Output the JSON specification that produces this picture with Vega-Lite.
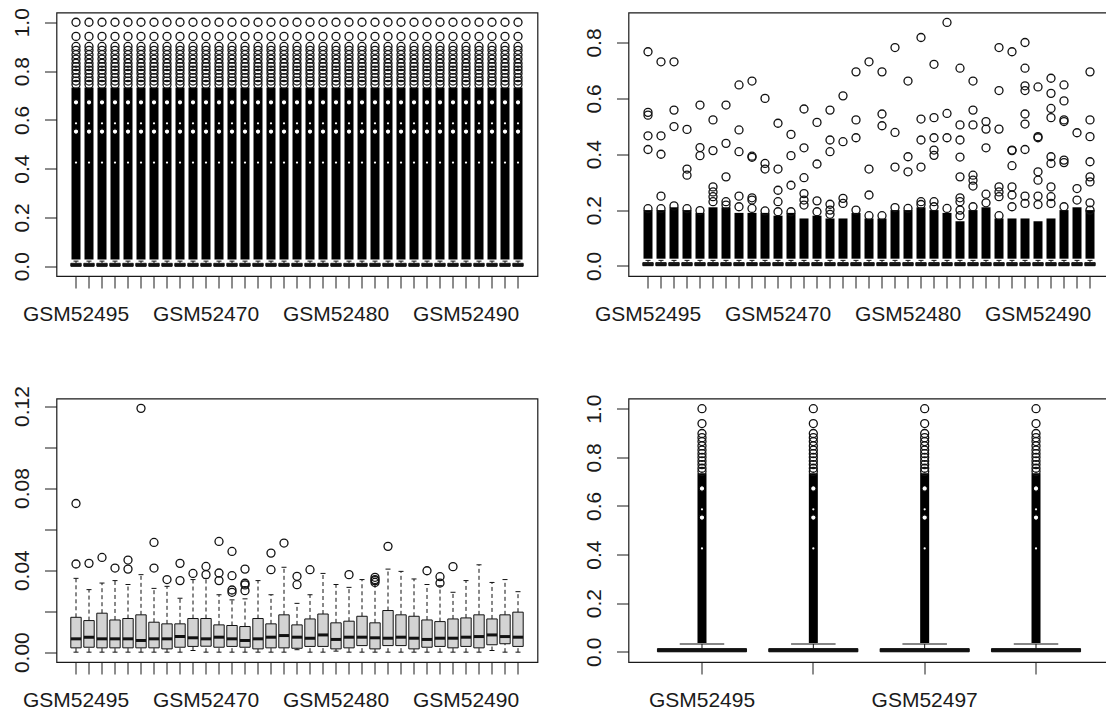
{
"$schema": "https://vega.github.io/schema/vega-lite/v6.json",
"padding": {"left": 10.5, "top": 6.5, "right": -5, "bottom": 0},
"config": {"view": {"stroke": "#1a1a1a", "strokeWidth": 1.2}, "font": "Liberation Sans",
 "axis": {"grid": false, "domain": false, "tickColor": "#1a1a1a", "tickSize": 12, "tickWidth": 1, "labelColor": "#1a1a1a", "labelFont": "Liberation Sans", "labelOverlap": false, "title": null},
 "axisY": {"labelAngle": 270, "labelAlign": "center", "labelBaseline": "alphabetic", "labelPadding": 16, "labelFontSize": 21},
 "axisX": {"labelAngle": 0, "labelAlign": "center", "labelBaseline": "alphabetic", "labelPadding": 32, "labelFontSize": 21}},
"columns": 2,
"bounds": "flush",
"spacing": {"row": 122, "column": 91},
"datasets": {
"p1": [
{"s":"GSM52495","q1":0,"med":0.005,"q3":0.012,"lo":0,"hi":0.021,"dlo":0.028,"dhi":0.733,"h":[0.552,0.672],"d":[0.425,0.586],"o":[0.745,0.759,0.773,0.79,0.804,0.818,0.832,0.849,0.867,0.885,0.901,0.942,1]},
{"s":"GSM52461","q1":0,"med":0.005,"q3":0.012,"lo":0,"hi":0.021,"dlo":0.028,"dhi":0.733,"h":[0.552,0.672],"d":[0.425,0.586],"o":[0.745,0.759,0.773,0.79,0.804,0.818,0.832,0.849,0.867,0.885,0.901,0.942,1]},
{"s":"GSM52462","q1":0,"med":0.005,"q3":0.012,"lo":0,"hi":0.021,"dlo":0.028,"dhi":0.733,"h":[0.552,0.672],"d":[0.425,0.586],"o":[0.745,0.759,0.773,0.79,0.804,0.818,0.832,0.849,0.867,0.885,0.901,0.942,1]},
{"s":"GSM52463","q1":0,"med":0.005,"q3":0.012,"lo":0,"hi":0.021,"dlo":0.028,"dhi":0.733,"h":[0.552,0.672],"d":[0.425,0.586],"o":[0.745,0.759,0.773,0.79,0.804,0.818,0.832,0.849,0.867,0.885,0.901,0.942,1]},
{"s":"GSM52464","q1":0,"med":0.005,"q3":0.012,"lo":0,"hi":0.021,"dlo":0.028,"dhi":0.733,"h":[0.552,0.672],"d":[0.425,0.586],"o":[0.745,0.759,0.773,0.79,0.804,0.818,0.832,0.849,0.867,0.885,0.901,0.942,1]},
{"s":"GSM52465","q1":0,"med":0.005,"q3":0.012,"lo":0,"hi":0.021,"dlo":0.028,"dhi":0.733,"h":[0.552,0.672],"d":[0.425,0.586],"o":[0.745,0.759,0.773,0.79,0.804,0.818,0.832,0.849,0.867,0.885,0.901,0.942,1]},
{"s":"GSM52466","q1":0,"med":0.005,"q3":0.012,"lo":0,"hi":0.021,"dlo":0.028,"dhi":0.733,"h":[0.552,0.672],"d":[0.425,0.586],"o":[0.745,0.759,0.773,0.79,0.804,0.818,0.832,0.849,0.867,0.885,0.901,0.942,1]},
{"s":"GSM52467","q1":0,"med":0.005,"q3":0.012,"lo":0,"hi":0.021,"dlo":0.028,"dhi":0.733,"h":[0.552,0.672],"d":[0.425,0.586],"o":[0.745,0.759,0.773,0.79,0.804,0.818,0.832,0.849,0.867,0.885,0.901,0.942,1]},
{"s":"GSM52468","q1":0,"med":0.005,"q3":0.012,"lo":0,"hi":0.021,"dlo":0.028,"dhi":0.733,"h":[0.552,0.672],"d":[0.425,0.586],"o":[0.745,0.759,0.773,0.79,0.804,0.818,0.832,0.849,0.867,0.885,0.901,0.942,1]},
{"s":"GSM52469","q1":0,"med":0.005,"q3":0.012,"lo":0,"hi":0.021,"dlo":0.028,"dhi":0.733,"h":[0.552,0.672],"d":[0.425,0.586],"o":[0.745,0.759,0.773,0.79,0.804,0.818,0.832,0.849,0.867,0.885,0.901,0.942,1]},
{"s":"GSM52470","q1":0,"med":0.005,"q3":0.012,"lo":0,"hi":0.021,"dlo":0.028,"dhi":0.733,"h":[0.552,0.672],"d":[0.425,0.586],"o":[0.745,0.759,0.773,0.79,0.804,0.818,0.832,0.849,0.867,0.885,0.901,0.942,1]},
{"s":"GSM52471","q1":0,"med":0.005,"q3":0.012,"lo":0,"hi":0.021,"dlo":0.028,"dhi":0.733,"h":[0.552,0.672],"d":[0.425,0.586],"o":[0.745,0.759,0.773,0.79,0.804,0.818,0.832,0.849,0.867,0.885,0.901,0.942,1]},
{"s":"GSM52472","q1":0,"med":0.005,"q3":0.012,"lo":0,"hi":0.021,"dlo":0.028,"dhi":0.733,"h":[0.552,0.672],"d":[0.425,0.586],"o":[0.745,0.759,0.773,0.79,0.804,0.818,0.832,0.849,0.867,0.885,0.901,0.942,1]},
{"s":"GSM52473","q1":0,"med":0.005,"q3":0.012,"lo":0,"hi":0.021,"dlo":0.028,"dhi":0.733,"h":[0.552,0.672],"d":[0.425,0.586],"o":[0.745,0.759,0.773,0.79,0.804,0.818,0.832,0.849,0.867,0.885,0.901,0.942,1]},
{"s":"GSM52474","q1":0,"med":0.005,"q3":0.012,"lo":0,"hi":0.021,"dlo":0.028,"dhi":0.733,"h":[0.552,0.672],"d":[0.425,0.586],"o":[0.745,0.759,0.773,0.79,0.804,0.818,0.832,0.849,0.867,0.885,0.901,0.942,1]},
{"s":"GSM52475","q1":0,"med":0.005,"q3":0.012,"lo":0,"hi":0.021,"dlo":0.028,"dhi":0.733,"h":[0.552,0.672],"d":[0.425,0.586],"o":[0.745,0.759,0.773,0.79,0.804,0.818,0.832,0.849,0.867,0.885,0.901,0.942,1]},
{"s":"GSM52476","q1":0,"med":0.005,"q3":0.012,"lo":0,"hi":0.021,"dlo":0.028,"dhi":0.733,"h":[0.552,0.672],"d":[0.425,0.586],"o":[0.745,0.759,0.773,0.79,0.804,0.818,0.832,0.849,0.867,0.885,0.901,0.942,1]},
{"s":"GSM52477","q1":0,"med":0.005,"q3":0.012,"lo":0,"hi":0.021,"dlo":0.028,"dhi":0.733,"h":[0.552,0.672],"d":[0.425,0.586],"o":[0.745,0.759,0.773,0.79,0.804,0.818,0.832,0.849,0.867,0.885,0.901,0.942,1]},
{"s":"GSM52478","q1":0,"med":0.005,"q3":0.012,"lo":0,"hi":0.021,"dlo":0.028,"dhi":0.733,"h":[0.552,0.672],"d":[0.425,0.586],"o":[0.745,0.759,0.773,0.79,0.804,0.818,0.832,0.849,0.867,0.885,0.901,0.942,1]},
{"s":"GSM52479","q1":0,"med":0.005,"q3":0.012,"lo":0,"hi":0.021,"dlo":0.028,"dhi":0.733,"h":[0.552,0.672],"d":[0.425,0.586],"o":[0.745,0.759,0.773,0.79,0.804,0.818,0.832,0.849,0.867,0.885,0.901,0.942,1]},
{"s":"GSM52480","q1":0,"med":0.005,"q3":0.012,"lo":0,"hi":0.021,"dlo":0.028,"dhi":0.733,"h":[0.552,0.672],"d":[0.425,0.586],"o":[0.745,0.759,0.773,0.79,0.804,0.818,0.832,0.849,0.867,0.885,0.901,0.942,1]},
{"s":"GSM52481","q1":0,"med":0.005,"q3":0.012,"lo":0,"hi":0.021,"dlo":0.028,"dhi":0.733,"h":[0.552,0.672],"d":[0.425,0.586],"o":[0.745,0.759,0.773,0.79,0.804,0.818,0.832,0.849,0.867,0.885,0.901,0.942,1]},
{"s":"GSM52482","q1":0,"med":0.005,"q3":0.012,"lo":0,"hi":0.021,"dlo":0.028,"dhi":0.733,"h":[0.552,0.672],"d":[0.425,0.586],"o":[0.745,0.759,0.773,0.79,0.804,0.818,0.832,0.849,0.867,0.885,0.901,0.942,1]},
{"s":"GSM52483","q1":0,"med":0.005,"q3":0.012,"lo":0,"hi":0.021,"dlo":0.028,"dhi":0.733,"h":[0.552,0.672],"d":[0.425,0.586],"o":[0.745,0.759,0.773,0.79,0.804,0.818,0.832,0.849,0.867,0.885,0.901,0.942,1]},
{"s":"GSM52484","q1":0,"med":0.005,"q3":0.012,"lo":0,"hi":0.021,"dlo":0.028,"dhi":0.733,"h":[0.552,0.672],"d":[0.425,0.586],"o":[0.745,0.759,0.773,0.79,0.804,0.818,0.832,0.849,0.867,0.885,0.901,0.942,1]},
{"s":"GSM52485","q1":0,"med":0.005,"q3":0.012,"lo":0,"hi":0.021,"dlo":0.028,"dhi":0.733,"h":[0.552,0.672],"d":[0.425,0.586],"o":[0.745,0.759,0.773,0.79,0.804,0.818,0.832,0.849,0.867,0.885,0.901,0.942,1]},
{"s":"GSM52486","q1":0,"med":0.005,"q3":0.012,"lo":0,"hi":0.021,"dlo":0.028,"dhi":0.733,"h":[0.552,0.672],"d":[0.425,0.586],"o":[0.745,0.759,0.773,0.79,0.804,0.818,0.832,0.849,0.867,0.885,0.901,0.942,1]},
{"s":"GSM52487","q1":0,"med":0.005,"q3":0.012,"lo":0,"hi":0.021,"dlo":0.028,"dhi":0.733,"h":[0.552,0.672],"d":[0.425,0.586],"o":[0.745,0.759,0.773,0.79,0.804,0.818,0.832,0.849,0.867,0.885,0.901,0.942,1]},
{"s":"GSM52488","q1":0,"med":0.005,"q3":0.012,"lo":0,"hi":0.021,"dlo":0.028,"dhi":0.733,"h":[0.552,0.672],"d":[0.425,0.586],"o":[0.745,0.759,0.773,0.79,0.804,0.818,0.832,0.849,0.867,0.885,0.901,0.942,1]},
{"s":"GSM52489","q1":0,"med":0.005,"q3":0.012,"lo":0,"hi":0.021,"dlo":0.028,"dhi":0.733,"h":[0.552,0.672],"d":[0.425,0.586],"o":[0.745,0.759,0.773,0.79,0.804,0.818,0.832,0.849,0.867,0.885,0.901,0.942,1]},
{"s":"GSM52490","q1":0,"med":0.005,"q3":0.012,"lo":0,"hi":0.021,"dlo":0.028,"dhi":0.733,"h":[0.552,0.672],"d":[0.425,0.586],"o":[0.745,0.759,0.773,0.79,0.804,0.818,0.832,0.849,0.867,0.885,0.901,0.942,1]},
{"s":"GSM52491","q1":0,"med":0.005,"q3":0.012,"lo":0,"hi":0.021,"dlo":0.028,"dhi":0.733,"h":[0.552,0.672],"d":[0.425,0.586],"o":[0.745,0.759,0.773,0.79,0.804,0.818,0.832,0.849,0.867,0.885,0.901,0.942,1]},
{"s":"GSM52492","q1":0,"med":0.005,"q3":0.012,"lo":0,"hi":0.021,"dlo":0.028,"dhi":0.733,"h":[0.552,0.672],"d":[0.425,0.586],"o":[0.745,0.759,0.773,0.79,0.804,0.818,0.832,0.849,0.867,0.885,0.901,0.942,1]},
{"s":"GSM52493","q1":0,"med":0.005,"q3":0.012,"lo":0,"hi":0.021,"dlo":0.028,"dhi":0.733,"h":[0.552,0.672],"d":[0.425,0.586],"o":[0.745,0.759,0.773,0.79,0.804,0.818,0.832,0.849,0.867,0.885,0.901,0.942,1]},
{"s":"GSM52494","q1":0,"med":0.005,"q3":0.012,"lo":0,"hi":0.021,"dlo":0.028,"dhi":0.733,"h":[0.552,0.672],"d":[0.425,0.586],"o":[0.745,0.759,0.773,0.79,0.804,0.818,0.832,0.849,0.867,0.885,0.901,0.942,1]}
],
"p2": [
{"s":"GSM52495","q1":0.001,"med":0.005,"q3":0.012,"lo":0,"hi":0.02,"dlo":0.026,"dhi":0.2,"o":[0.767,0.55,0.54,0.466,0.417,0.205]},
{"s":"GSM52461","q1":0.001,"med":0.005,"q3":0.012,"lo":0,"hi":0.02,"dlo":0.026,"dhi":0.2,"o":[0.731,0.466,0.4,0.25,0.205]},
{"s":"GSM52462","q1":0.001,"med":0.005,"q3":0.012,"lo":0,"hi":0.02,"dlo":0.026,"dhi":0.21,"o":[0.731,0.558,0.499,0.215]},
{"s":"GSM52463","q1":0.001,"med":0.005,"q3":0.012,"lo":0,"hi":0.02,"dlo":0.026,"dhi":0.2,"o":[0.489,0.347,0.325,0.205]},
{"s":"GSM52464","q1":0.001,"med":0.005,"q3":0.012,"lo":0,"hi":0.02,"dlo":0.026,"dhi":0.19,"o":[0.576,0.424,0.395,0.198]},
{"s":"GSM52465","q1":0.001,"med":0.005,"q3":0.012,"lo":0,"hi":0.02,"dlo":0.026,"dhi":0.21,"o":[0.523,0.413,0.283,0.265,0.248,0.23]},
{"s":"GSM52466","q1":0.001,"med":0.005,"q3":0.012,"lo":0,"hi":0.02,"dlo":0.026,"dhi":0.21,"o":[0.576,0.439,0.319,0.23,0.218]},
{"s":"GSM52467","q1":0.001,"med":0.005,"q3":0.012,"lo":0,"hi":0.02,"dlo":0.026,"dhi":0.19,"o":[0.648,0.487,0.409,0.25,0.212]},
{"s":"GSM52468","q1":0.001,"med":0.005,"q3":0.012,"lo":0,"hi":0.02,"dlo":0.026,"dhi":0.19,"o":[0.662,0.393,0.389,0.244,0.236,0.206]},
{"s":"GSM52469","q1":0.001,"med":0.005,"q3":0.012,"lo":0,"hi":0.02,"dlo":0.026,"dhi":0.19,"o":[0.6,0.367,0.347,0.197]},
{"s":"GSM52470","q1":0.001,"med":0.005,"q3":0.012,"lo":0,"hi":0.02,"dlo":0.026,"dhi":0.18,"o":[0.511,0.347,0.271,0.23,0.194]},
{"s":"GSM52471","q1":0.001,"med":0.005,"q3":0.012,"lo":0,"hi":0.02,"dlo":0.026,"dhi":0.19,"o":[0.471,0.395,0.289,0.194]},
{"s":"GSM52472","q1":0.001,"med":0.005,"q3":0.012,"lo":0,"hi":0.02,"dlo":0.026,"dhi":0.17,"o":[0.562,0.423,0.316,0.259,0.236,0.218]},
{"s":"GSM52473","q1":0.001,"med":0.005,"q3":0.012,"lo":0,"hi":0.02,"dlo":0.026,"dhi":0.18,"o":[0.514,0.365,0.233,0.194]},
{"s":"GSM52474","q1":0.001,"med":0.005,"q3":0.012,"lo":0,"hi":0.02,"dlo":0.026,"dhi":0.17,"o":[0.558,0.451,0.409,0.221,0.2,0.185]},
{"s":"GSM52475","q1":0.001,"med":0.005,"q3":0.012,"lo":0,"hi":0.02,"dlo":0.026,"dhi":0.17,"o":[0.609,0.445,0.242,0.224]},
{"s":"GSM52476","q1":0.001,"med":0.005,"q3":0.012,"lo":0,"hi":0.02,"dlo":0.026,"dhi":0.19,"o":[0.695,0.523,0.459,0.2]},
{"s":"GSM52477","q1":0.001,"med":0.005,"q3":0.012,"lo":0,"hi":0.02,"dlo":0.026,"dhi":0.17,"o":[0.731,0.347,0.254,0.18]},
{"s":"GSM52478","q1":0.001,"med":0.005,"q3":0.012,"lo":0,"hi":0.02,"dlo":0.026,"dhi":0.17,"o":[0.695,0.544,0.502,0.18]},
{"s":"GSM52479","q1":0.001,"med":0.005,"q3":0.012,"lo":0,"hi":0.02,"dlo":0.026,"dhi":0.2,"o":[0.782,0.478,0.354,0.209]},
{"s":"GSM52480","q1":0.001,"med":0.005,"q3":0.012,"lo":0,"hi":0.02,"dlo":0.026,"dhi":0.2,"o":[0.662,0.391,0.337,0.206]},
{"s":"GSM52481","q1":0.001,"med":0.005,"q3":0.012,"lo":0,"hi":0.02,"dlo":0.026,"dhi":0.21,"o":[0.818,0.526,0.451,0.354,0.23,0.22]},
{"s":"GSM52482","q1":0.001,"med":0.005,"q3":0.012,"lo":0,"hi":0.02,"dlo":0.026,"dhi":0.2,"o":[0.722,0.531,0.459,0.415,0.396,0.23,0.212]},
{"s":"GSM52483","q1":0.001,"med":0.005,"q3":0.012,"lo":0,"hi":0.02,"dlo":0.026,"dhi":0.19,"o":[0.872,0.546,0.459,0.206]},
{"s":"GSM52484","q1":0.001,"med":0.005,"q3":0.012,"lo":0,"hi":0.02,"dlo":0.026,"dhi":0.16,"o":[0.708,0.505,0.451,0.39,0.319,0.244,0.23,0.2,0.18]},
{"s":"GSM52485","q1":0.001,"med":0.005,"q3":0.012,"lo":0,"hi":0.02,"dlo":0.026,"dhi":0.2,"o":[0.662,0.558,0.505,0.325,0.307,0.286,0.212]},
{"s":"GSM52486","q1":0.001,"med":0.005,"q3":0.012,"lo":0,"hi":0.02,"dlo":0.026,"dhi":0.21,"o":[0.517,0.49,0.423,0.257,0.226]},
{"s":"GSM52487","q1":0.001,"med":0.005,"q3":0.012,"lo":0,"hi":0.02,"dlo":0.026,"dhi":0.17,"o":[0.782,0.628,0.49,0.283,0.265,0.248,0.18]},
{"s":"GSM52488","q1":0.001,"med":0.005,"q3":0.012,"lo":0,"hi":0.02,"dlo":0.026,"dhi":0.17,"o":[0.767,0.415,0.413,0.359,0.283,0.254,0.212]},
{"s":"GSM52489","q1":0.001,"med":0.005,"q3":0.012,"lo":0,"hi":0.02,"dlo":0.026,"dhi":0.17,"o":[0.8,0.708,0.645,0.628,0.544,0.508,0.417,0.25,0.224]},
{"s":"GSM52490","q1":0.001,"med":0.005,"q3":0.012,"lo":0,"hi":0.02,"dlo":0.026,"dhi":0.16,"o":[0.641,0.463,0.459,0.337,0.307,0.25,0.22]},
{"s":"GSM52491","q1":0.001,"med":0.005,"q3":0.012,"lo":0,"hi":0.02,"dlo":0.026,"dhi":0.17,"o":[0.672,0.618,0.564,0.531,0.391,0.367,0.283,0.248,0.224]},
{"s":"GSM52492","q1":0.001,"med":0.005,"q3":0.012,"lo":0,"hi":0.02,"dlo":0.026,"dhi":0.2,"o":[0.648,0.591,0.523,0.517,0.379,0.37,0.212]},
{"s":"GSM52493","q1":0.001,"med":0.005,"q3":0.012,"lo":0,"hi":0.02,"dlo":0.026,"dhi":0.21,"o":[0.477,0.277,0.236]},
{"s":"GSM52494","q1":0.001,"med":0.005,"q3":0.012,"lo":0,"hi":0.02,"dlo":0.026,"dhi":0.2,"o":[0.695,0.523,0.463,0.373,0.319,0.301,0.226,0.2]}
],
"p3": [
{"s":"GSM52495","q1":0.0021,"med":0.0065,"q3":0.017,"lo":0,"hi":0.036,"o":[0.043,0.0725]},
{"s":"GSM52461","q1":0.0024,"med":0.0073,"q3":0.0154,"lo":0,"hi":0.0305,"o":[0.0433]},
{"s":"GSM52462","q1":0.0021,"med":0.0065,"q3":0.019,"lo":0,"hi":0.0337,"o":[0.0462]},
{"s":"GSM52463","q1":0.0021,"med":0.0065,"q3":0.0157,"lo":0,"hi":0.0349,"o":[0.041]},
{"s":"GSM52464","q1":0.0021,"med":0.0065,"q3":0.0164,"lo":0,"hi":0.033,"o":[0.0449,0.0405]},
{"s":"GSM52465","q1":0.0021,"med":0.0057,"q3":0.0182,"lo":0,"hi":0.0378,"o":[0.1189]},
{"s":"GSM52466","q1":0.0021,"med":0.0065,"q3":0.0146,"lo":0,"hi":0.0311,"o":[0.0535,0.041]},
{"s":"GSM52467","q1":0.0016,"med":0.0065,"q3":0.0138,"lo":0,"hi":0.0321,"o":[0.0354]},
{"s":"GSM52468","q1":0.0024,"med":0.0076,"q3":0.0138,"lo":0,"hi":0.0263,"o":[0.0433,0.0349]},
{"s":"GSM52469","q1":0.0028,"med":0.007,"q3":0.0164,"lo":0.0008,"hi":0.0354,"o":[0.0384]},
{"s":"GSM52470","q1":0.0029,"med":0.0065,"q3":0.0164,"lo":0,"hi":0.036,"o":[0.0418,0.0378]},
{"s":"GSM52471","q1":0.0024,"med":0.0073,"q3":0.0133,"lo":0,"hi":0.028,"o":[0.054,0.0386,0.0349]},
{"s":"GSM52472","q1":0.0028,"med":0.0065,"q3":0.013,"lo":0,"hi":0.0255,"o":[0.0491,0.0373,0.0303,0.0292]},
{"s":"GSM52473","q1":0.0024,"med":0.0057,"q3":0.0125,"lo":0,"hi":0.026,"o":[0.0405,0.0336,0.0328,0.03]},
{"s":"GSM52474","q1":0.0016,"med":0.0065,"q3":0.0164,"lo":0,"hi":0.0349,"o":[]},
{"s":"GSM52475","q1":0.0021,"med":0.0073,"q3":0.0138,"lo":0,"hi":0.028,"o":[0.0483,0.0402]},
{"s":"GSM52476","q1":0.0021,"med":0.0081,"q3":0.0182,"lo":0,"hi":0.0414,"o":[0.0532]},
{"s":"GSM52477","q1":0.0019,"med":0.0073,"q3":0.0133,"lo":0.0012,"hi":0.0238,"o":[0.037,0.0329]},
{"s":"GSM52478","q1":0.0028,"med":0.0068,"q3":0.0162,"lo":0,"hi":0.028,"o":[0.0402]},
{"s":"GSM52479","q1":0.0028,"med":0.0084,"q3":0.0186,"lo":0,"hi":0.0384,"o":[]},
{"s":"GSM52480","q1":0.0016,"med":0.0062,"q3":0.0143,"lo":0.0005,"hi":0.033,"o":[]},
{"s":"GSM52481","q1":0.0021,"med":0.0073,"q3":0.0151,"lo":0,"hi":0.0316,"o":[0.0378]},
{"s":"GSM52482","q1":0.0032,"med":0.0073,"q3":0.0175,"lo":0,"hi":0.0354,"o":[]},
{"s":"GSM52483","q1":0.0016,"med":0.007,"q3":0.0143,"lo":0,"hi":0.033,"o":[0.0365,0.0354,0.0349,0.034]},
{"s":"GSM52484","q1":0.0032,"med":0.0068,"q3":0.0203,"lo":0,"hi":0.0405,"o":[0.0516]},
{"s":"GSM52485","q1":0.0032,"med":0.0073,"q3":0.0182,"lo":0,"hi":0.0394,"o":[]},
{"s":"GSM52486","q1":0.0016,"med":0.0068,"q3":0.0175,"lo":0,"hi":0.0357,"o":[]},
{"s":"GSM52487","q1":0.0024,"med":0.0062,"q3":0.0157,"lo":0,"hi":0.033,"o":[0.0397]},
{"s":"GSM52488","q1":0.0028,"med":0.0068,"q3":0.0149,"lo":0,"hi":0.0324,"o":[0.0368,0.0337]},
{"s":"GSM52489","q1":0.0021,"med":0.0068,"q3":0.0162,"lo":0,"hi":0.0292,"o":[0.0417]},
{"s":"GSM52490","q1":0.0028,"med":0.0073,"q3":0.0167,"lo":0,"hi":0.0349,"o":[]},
{"s":"GSM52491","q1":0.0021,"med":0.0076,"q3":0.0182,"lo":0,"hi":0.0426,"o":[]},
{"s":"GSM52492","q1":0.0036,"med":0.0084,"q3":0.0162,"lo":0.0008,"hi":0.034,"o":[]},
{"s":"GSM52493","q1":0.0041,"med":0.0076,"q3":0.0182,"lo":0,"hi":0.0354,"o":[]},
{"s":"GSM52494","q1":0.0028,"med":0.0073,"q3":0.0195,"lo":0,"hi":0.0295,"o":[]}
],
"p4": [
{"s":"GSM52495","q1":0,"med":0.006,"q3":0.013,"lo":0,"hi":0.032,"dlo":0.036,"dhi":0.735,"h":[0.552,0.672],"d":[0.425,0.586],"o":[0.742,0.755,0.77,0.785,0.8,0.815,0.83,0.847,0.865,0.881,0.898,0.939,1]},
{"s":"GSM52496","q1":0,"med":0.006,"q3":0.013,"lo":0,"hi":0.032,"dlo":0.036,"dhi":0.735,"h":[0.552,0.672],"d":[0.425,0.586],"o":[0.742,0.755,0.77,0.785,0.8,0.815,0.83,0.847,0.865,0.881,0.898,0.939,1]},
{"s":"GSM52497","q1":0,"med":0.006,"q3":0.013,"lo":0,"hi":0.032,"dlo":0.036,"dhi":0.735,"h":[0.552,0.672],"d":[0.425,0.586],"o":[0.742,0.755,0.77,0.785,0.8,0.815,0.83,0.847,0.865,0.881,0.898,0.939,1]},
{"s":"GSM52498","q1":0,"med":0.006,"q3":0.013,"lo":0,"hi":0.032,"dlo":0.036,"dhi":0.735,"h":[0.552,0.672],"d":[0.425,0.586],"o":[0.742,0.755,0.77,0.785,0.8,0.815,0.83,0.847,0.865,0.881,0.898,0.939,1]}
]
},
"concat": [
{
"width": 481, "height": 263.5,
"data": {"name": "p1"},
"encoding": {"x": {"field": "s", "type": "nominal", "scale": {"type": "band", "domain": ["GSM52495","GSM52461","GSM52462","GSM52463","GSM52464","GSM52465","GSM52466","GSM52467","GSM52468","GSM52469","GSM52470","GSM52471","GSM52472","GSM52473","GSM52474","GSM52475","GSM52476","GSM52477","GSM52478","GSM52479","GSM52480","GSM52481","GSM52482","GSM52483","GSM52484","GSM52485","GSM52486","GSM52487","GSM52488","GSM52489","GSM52490","GSM52491","GSM52492","GSM52493","GSM52494"], "paddingInner": 0, "paddingOuter": 1.4},
 "axis": {"title": null, "labelExpr": "indexof(['GSM52495','GSM52470','GSM52480','GSM52490'], datum.value) >= 0 ? datum.value : ''"}}},
"layer": [
{"mark": {"type": "rule", "strokeDash": [4,3], "color": "#111"}, "encoding": {"y": {"field": "q3", "type": "quantitative", "scale": {"domain": [-0.04, 1.04], "nice": false, "zero": false}, "axis": {"title": null, "values": [0,0.2,0.4,0.6,0.8,1], "format": ".1f"}}, "y2": {"field": "hi"}}},
{"mark": {"type": "tick", "size": 5, "thickness": 1, "color": "#111", "opacity": 1}, "encoding": {"y": {"field": "hi", "type": "quantitative"}}},
{"mark": {"type": "bar", "width": {"band": 0.8}, "fill": "#d3d3d3", "stroke": "#111", "strokeWidth": 1}, "encoding": {"y": {"field": "q1", "type": "quantitative"}, "y2": {"field": "q3"}}},
{"mark": {"type": "tick", "size": 10.2, "thickness": 3, "color": "#111", "opacity": 1}, "encoding": {"y": {"field": "med", "type": "quantitative"}}},
{"mark": {"type": "bar", "width": 9, "color": "#000"}, "encoding": {"y": {"field": "dlo", "type": "quantitative"}, "y2": {"field": "dhi"}}},
{"transform": [{"flatten": ["h"], "as": ["hv"]}], "mark": {"type": "point", "shape": "circle", "filled": true, "fill": "#fff", "stroke": "#000", "strokeWidth": 1.2, "size": 30, "opacity": 1}, "encoding": {"y": {"field": "hv", "type": "quantitative"}}},
{"transform": [{"flatten": ["d"], "as": ["dv"]}], "mark": {"type": "point", "shape": "circle", "filled": true, "fill": "#fff", "strokeWidth": 0, "size": 5, "opacity": 1}, "encoding": {"y": {"field": "dv", "type": "quantitative"}}},
{"transform": [{"flatten": ["o"], "as": ["v"]}], "mark": {"type": "point", "shape": "circle", "filled": false, "size": 64, "strokeWidth": 1.3, "color": "#111", "opacity": 1}, "encoding": {"y": {"field": "v", "type": "quantitative"}}}
]
},
{
"width": 481, "height": 263.5,
"data": {"name": "p2"},
"encoding": {"x": {"field": "s", "type": "nominal", "scale": {"type": "band", "domain": ["GSM52495","GSM52461","GSM52462","GSM52463","GSM52464","GSM52465","GSM52466","GSM52467","GSM52468","GSM52469","GSM52470","GSM52471","GSM52472","GSM52473","GSM52474","GSM52475","GSM52476","GSM52477","GSM52478","GSM52479","GSM52480","GSM52481","GSM52482","GSM52483","GSM52484","GSM52485","GSM52486","GSM52487","GSM52488","GSM52489","GSM52490","GSM52491","GSM52492","GSM52493","GSM52494"], "paddingInner": 0, "paddingOuter": 1.4},
 "axis": {"title": null, "labelExpr": "indexof(['GSM52495','GSM52470','GSM52480','GSM52490'], datum.value) >= 0 ? datum.value : ''"}}},
"layer": [
{"mark": {"type": "rule", "strokeDash": [4,3], "color": "#111"}, "encoding": {"y": {"field": "q3", "type": "quantitative", "scale": {"domain": [-0.036, 0.9075], "nice": false, "zero": false}, "axis": {"title": null, "values": [0,0.2,0.4,0.6,0.8], "format": ".1f"}}, "y2": {"field": "hi"}}},
{"mark": {"type": "tick", "size": 5, "thickness": 1, "color": "#111", "opacity": 1}, "encoding": {"y": {"field": "hi", "type": "quantitative"}}},
{"mark": {"type": "bar", "width": {"band": 0.8}, "fill": "#d3d3d3", "stroke": "#111", "strokeWidth": 1}, "encoding": {"y": {"field": "q1", "type": "quantitative"}, "y2": {"field": "q3"}}},
{"mark": {"type": "tick", "size": 10.2, "thickness": 3, "color": "#111", "opacity": 1}, "encoding": {"y": {"field": "med", "type": "quantitative"}}},
{"mark": {"type": "bar", "width": 9, "color": "#000"}, "encoding": {"y": {"field": "dlo", "type": "quantitative"}, "y2": {"field": "dhi"}}},
{"transform": [{"flatten": ["o"], "as": ["v"]}], "mark": {"type": "point", "shape": "circle", "filled": false, "size": 64, "strokeWidth": 1.3, "color": "#111", "opacity": 1}, "encoding": {"y": {"field": "v", "type": "quantitative"}}}
]
},
{
"width": 481, "height": 263.5,
"data": {"name": "p3"},
"encoding": {"x": {"field": "s", "type": "nominal", "scale": {"type": "band", "domain": ["GSM52495","GSM52461","GSM52462","GSM52463","GSM52464","GSM52465","GSM52466","GSM52467","GSM52468","GSM52469","GSM52470","GSM52471","GSM52472","GSM52473","GSM52474","GSM52475","GSM52476","GSM52477","GSM52478","GSM52479","GSM52480","GSM52481","GSM52482","GSM52483","GSM52484","GSM52485","GSM52486","GSM52487","GSM52488","GSM52489","GSM52490","GSM52491","GSM52492","GSM52493","GSM52494"], "paddingInner": 0, "paddingOuter": 1.4},
 "axis": {"title": null, "labelExpr": "indexof(['GSM52495','GSM52470','GSM52480','GSM52490'], datum.value) >= 0 ? datum.value : ''"}}},
"layer": [
{"mark": {"type": "rule", "strokeDash": [4,3], "color": "#111"}, "encoding": {"y": {"field": "q3", "type": "quantitative", "scale": {"domain": [-0.0048, 0.1237], "nice": false, "zero": false}, "axis": {"title": null, "values": [0,0.02,0.04,0.06,0.08,0.1,0.12], "labelExpr": "indexof(['0.00','0.04','0.08','0.12'], format(datum.value, '.2f')) >= 0 ? format(datum.value, '.2f') : ''"}}, "y2": {"field": "hi"}}},
{"mark": {"type": "rule", "strokeDash": [4,3], "color": "#111"}, "encoding": {"y": {"field": "lo", "type": "quantitative"}, "y2": {"field": "q1"}}},
{"mark": {"type": "tick", "size": 5, "thickness": 1, "color": "#111", "opacity": 1}, "encoding": {"y": {"field": "hi", "type": "quantitative"}}},
{"mark": {"type": "tick", "size": 5, "thickness": 1, "color": "#111", "opacity": 1}, "encoding": {"y": {"field": "lo", "type": "quantitative"}}},
{"mark": {"type": "bar", "width": {"band": 0.8}, "fill": "#d3d3d3", "stroke": "#111", "strokeWidth": 1}, "encoding": {"y": {"field": "q1", "type": "quantitative"}, "y2": {"field": "q3"}}},
{"mark": {"type": "tick", "size": 10.2, "thickness": 3, "color": "#111", "opacity": 1}, "encoding": {"y": {"field": "med", "type": "quantitative"}}},
{"transform": [{"flatten": ["o"], "as": ["v"]}], "mark": {"type": "point", "shape": "circle", "filled": false, "size": 64, "strokeWidth": 1.3, "color": "#111", "opacity": 1}, "encoding": {"y": {"field": "v", "type": "quantitative"}}}
]
},
{
"width": 481, "height": 263.5,
"data": {"name": "p4"},
"encoding": {"x": {"field": "s", "type": "nominal", "scale": {"type": "band", "domain": ["GSM52495","GSM52496","GSM52497","GSM52498"], "paddingInner": 0, "paddingOuter": 0.16},
 "axis": {"title": null, "labelExpr": "indexof(['GSM52495','GSM52497'], datum.value) >= 0 ? datum.value : ''"}}},
"layer": [
{"mark": {"type": "rule", "color": "#111"}, "encoding": {"y": {"field": "q3", "type": "quantitative", "scale": {"domain": [-0.042, 1.042], "nice": false, "zero": false}, "axis": {"title": null, "values": [0,0.2,0.4,0.6,0.8,1], "format": ".1f"}}, "y2": {"field": "hi"}}},
{"mark": {"type": "tick", "size": 44.5, "thickness": 1, "color": "#111", "opacity": 1}, "encoding": {"y": {"field": "hi", "type": "quantitative"}}},
{"mark": {"type": "bar", "width": {"band": 0.8}, "fill": "#111", "stroke": "#111", "strokeWidth": 1}, "encoding": {"y": {"field": "q1", "type": "quantitative"}, "y2": {"field": "q3"}}},
{"mark": {"type": "tick", "size": 89, "thickness": 3, "color": "#111", "opacity": 1}, "encoding": {"y": {"field": "med", "type": "quantitative"}}},
{"mark": {"type": "bar", "width": 9, "color": "#000"}, "encoding": {"y": {"field": "dlo", "type": "quantitative"}, "y2": {"field": "dhi"}}},
{"transform": [{"flatten": ["h"], "as": ["hv"]}], "mark": {"type": "point", "shape": "circle", "filled": true, "fill": "#fff", "stroke": "#000", "strokeWidth": 1.2, "size": 30, "opacity": 1}, "encoding": {"y": {"field": "hv", "type": "quantitative"}}},
{"transform": [{"flatten": ["d"], "as": ["dv"]}], "mark": {"type": "point", "shape": "circle", "filled": true, "fill": "#fff", "strokeWidth": 0, "size": 5, "opacity": 1}, "encoding": {"y": {"field": "dv", "type": "quantitative"}}},
{"transform": [{"flatten": ["o"], "as": ["v"]}], "mark": {"type": "point", "shape": "circle", "filled": false, "size": 64, "strokeWidth": 1.3, "color": "#111", "opacity": 1}, "encoding": {"y": {"field": "v", "type": "quantitative"}}}
]
}
]
}
